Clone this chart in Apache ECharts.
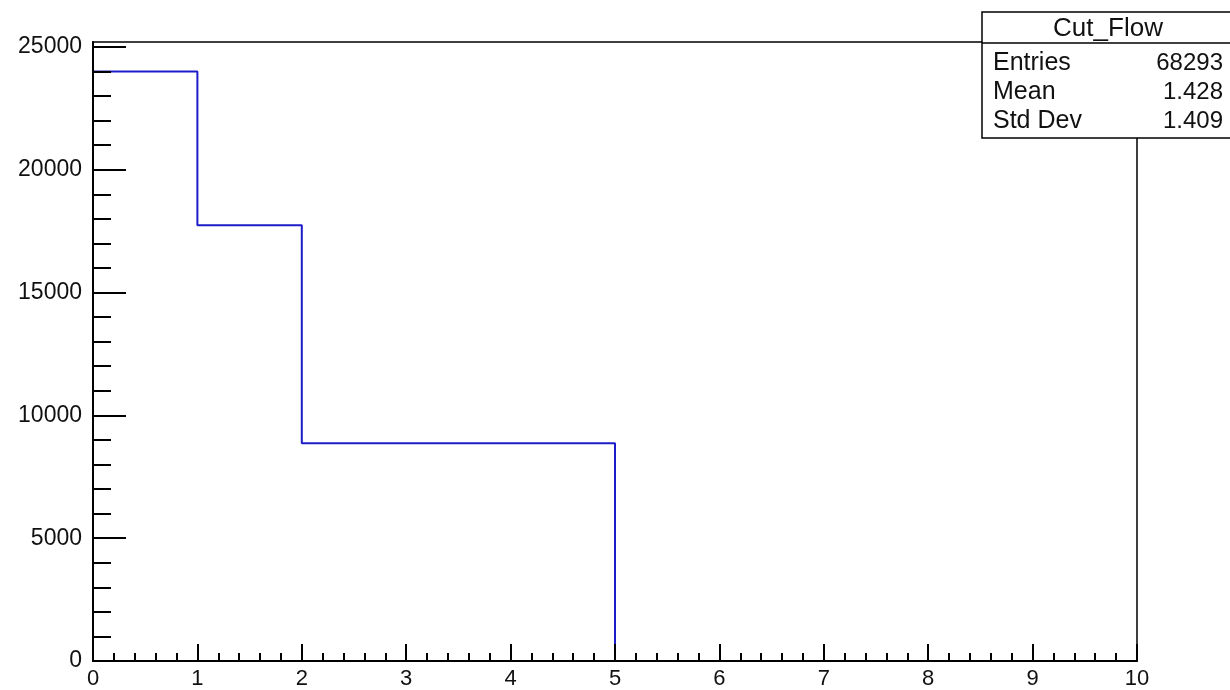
<!DOCTYPE html>
<html>
<head>
<meta charset="utf-8">
<script src="https://cdn.jsdelivr.net/npm/echarts@6/dist/echarts.min.js"></script>
<style>
html,body{margin:0;padding:0;background:#fff;}
#c{width:1230px;height:690px;}
</style>
</head>
<body>
<div id="c"></div>
<script>
// ---- data ----
const binEdges = [0, 1, 2, 3, 4, 5, 6, 7, 8, 9, 10];
const binCounts = [24000, 17740, 8860, 8860, 8860, 0, 0, 0, 0, 0];
const xTickLabels = [0, 1, 2, 3, 4, 5, 6, 7, 8, 9, 10];
const yMajorTicks = [0, 5000, 10000, 15000, 20000, 25000];
const yMinorTicks = [1000, 2000, 3000, 4000, 6000, 7000, 8000, 9000, 11000, 12000, 13000, 14000,
                     16000, 17000, 18000, 19000, 21000, 22000, 23000, 24000];
const statTitle = 'Cut_Flow';
const statNames = ['Entries', 'Mean', 'Std Dev'];
const statValues = ['68293', '1.428', '1.409'];
const yMax = 25200;

// histogram outline points (step)
const points = binCounts.map((c, i) => [binEdges[i], c]);
points.push([binEdges[binEdges.length - 1], 0]);

const FONT = "'Liberation Sans', Arial, Helvetica, sans-serif";
const chart = echarts.init(document.getElementById('c'), null, {renderer: 'canvas'});

const statGraphics = [
  {type: 'rect', shape: {x: 982, y: 12, width: 260, height: 126},
   style: {fill: '#fff', stroke: '#000', lineWidth: 1.5}, z: 100},
  {type: 'line', shape: {x1: 982, y1: 43, x2: 1242, y2: 43},
   style: {stroke: '#000', lineWidth: 1.5}, z: 101},
  {type: 'text', x: 1108, y: 29, z: 101,
   style: {text: statTitle, font: '26px ' + FONT, fill: '#111', align: 'center', verticalAlign: 'middle'}}
];
const rowY = [63, 92, 121];
statNames.forEach((n, i) => {
  statGraphics.push({type: 'text', x: 993, y: rowY[i], z: 101,
    style: {text: n, font: '25px ' + FONT, fill: '#111', align: 'left', verticalAlign: 'middle'}});
  statGraphics.push({type: 'text', x: 1223, y: rowY[i], z: 101,
    style: {text: statValues[i], font: '24px ' + FONT, fill: '#111', align: 'right', verticalAlign: 'middle'}});
});

chart.setOption({
  animation: false,
  backgroundColor: '#fff',
  grid: {left: 93, right: 93, top: 42, bottom: 27, show: true, borderColor: '#000', borderWidth: 1.5, backgroundColor: 'transparent'},
  xAxis: {
    type: 'value', min: 0, max: 10, interval: 1, z: 10,
    axisLine: {show: true, onZero: false, lineStyle: {color: '#000', width: 2}},
    axisTick: {show: true, inside: true, length: 17, lineStyle: {color: '#000', width: 2}},
    minorTick: {show: true, splitNumber: 5, length: 8, lineStyle: {color: '#000', width: 2}},
    axisLabel: {show: true, margin: 7, color: '#111', fontSize: 22, fontFamily: FONT,
      customValues: xTickLabels, formatter: v => String(v)},
    splitLine: {show: false}
  },
  yAxis: [
    {
      type: 'value', min: 0, max: yMax, z: 10,
      axisLine: {show: true, lineStyle: {color: '#000', width: 2}},
      axisTick: {show: true, inside: true, length: 33, lineStyle: {color: '#000', width: 2}, customValues: yMajorTicks},
      axisLabel: {show: true, margin: 11, color: '#111', fontSize: 23, fontFamily: FONT, customValues: yMajorTicks,
        formatter: v => String(v)},
      splitLine: {show: false}
    },
    {
      type: 'value', min: 0, max: yMax, position: 'left', offset: 0, z: 10,
      axisLine: {show: false},
      axisTick: {show: true, inside: true, length: 18, lineStyle: {color: '#000', width: 2}, customValues: yMinorTicks},
      axisLabel: {show: false},
      splitLine: {show: false}
    }
  ],
  series: [{
    type: 'line', step: 'end', data: points, showSymbol: false, symbol: 'none', z: 2,
    lineStyle: {color: '#1c1cc8', width: 2}, itemStyle: {color: '#1c1cc8'}
  }],
  graphic: statGraphics
});
</script>
</body>
</html>
